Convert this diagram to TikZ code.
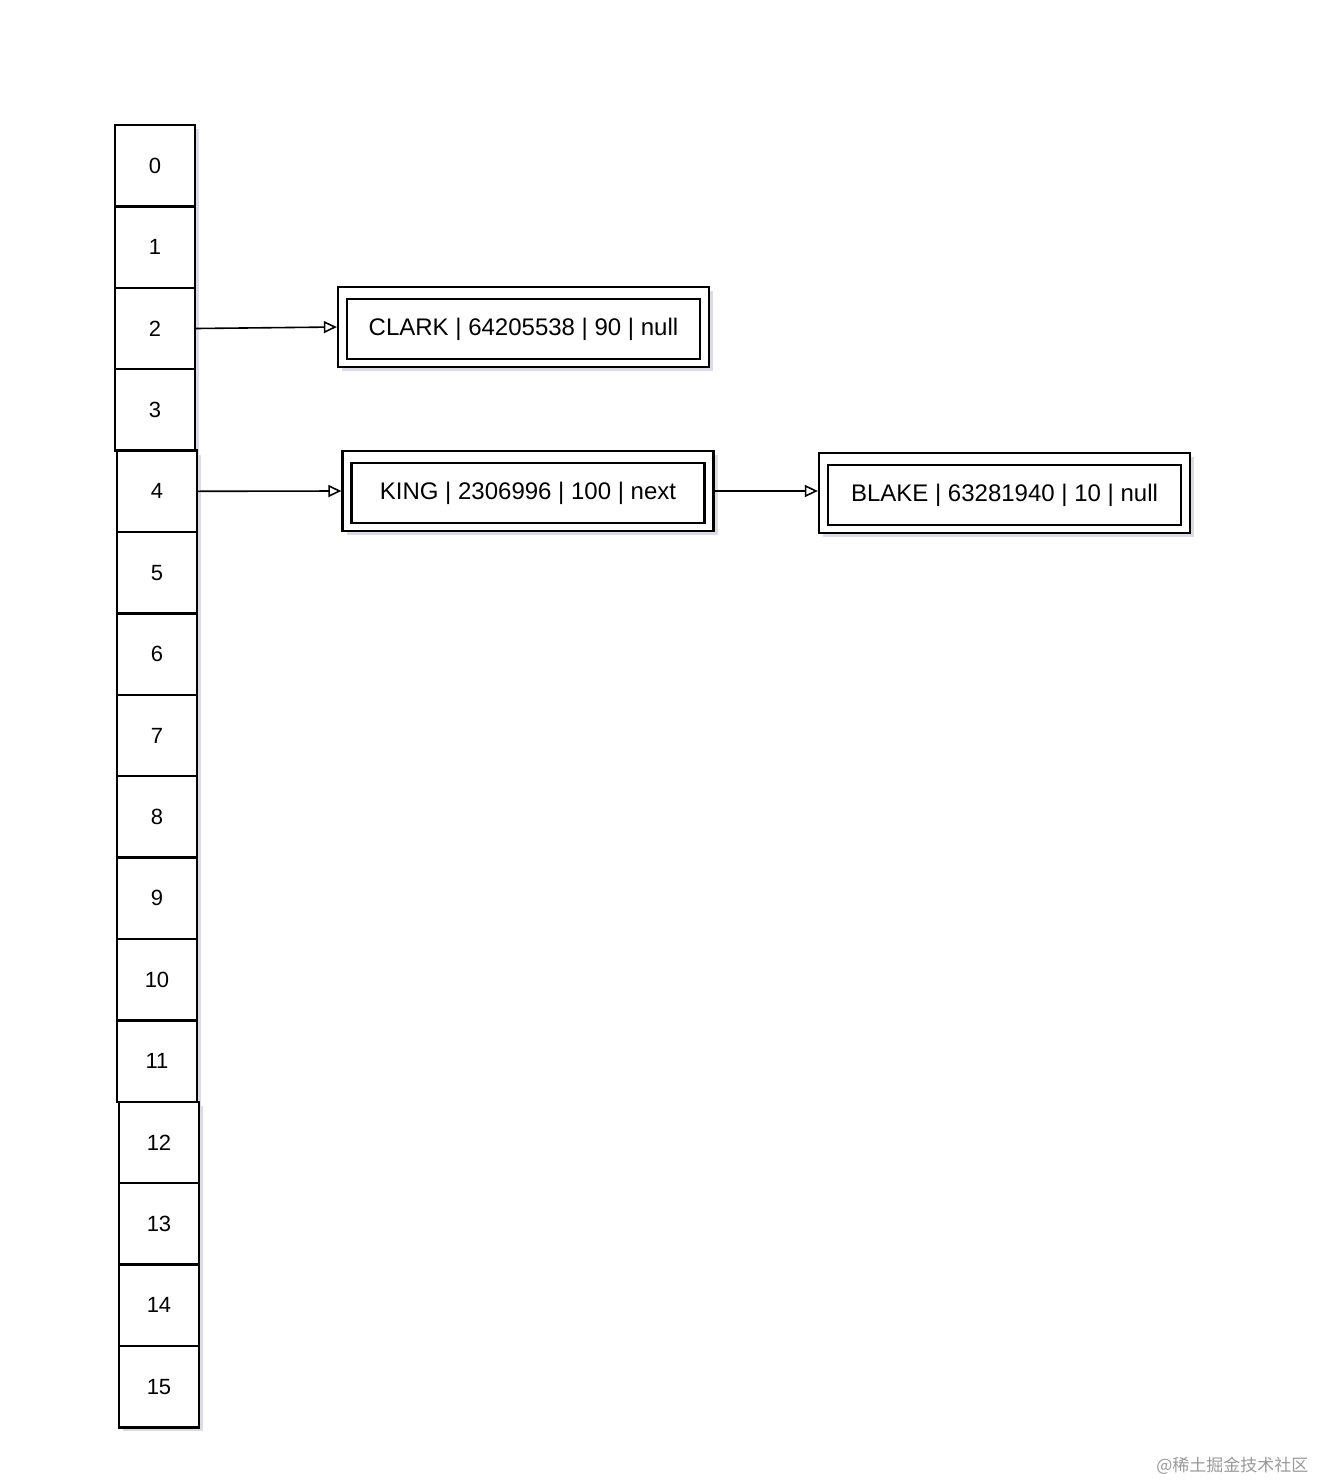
\documentclass[tikz,border=0pt]{standalone}
\usepackage{fontspec}
\setmainfont{Liberation Sans}
\newfontfamily\cjk{Noto Sans CJK SC}
\usetikzlibrary{arrows.meta,shadows}
\begin{document}
\begin{tikzpicture}[x=1pt,y=-1pt,
  shad/.style={drop shadow={shadow xshift=4pt, shadow yshift=-4pt, fill=blue!30!black!40, opacity=0.35}},
  cellbg/.style={fill=white, minimum width=80pt, minimum height=81.4pt, inner sep=0pt, shad},
  cell/.style={draw=black, line width=2.3pt, minimum width=80pt, minimum height=81.4pt,
    inner sep=0pt, font=\fontsize{22}{26}\selectfont},
  outerbox/.style={draw=black, line width=2.3pt, fill=white, minimum width=371pt, minimum height=80pt,
    inner sep=0pt, shad},
  innerbox/.style={draw=black, line width=2.3pt, minimum width=353pt, minimum height=60pt,
    inner sep=0pt, font=\fontsize{24}{28}\selectfont},
  arr/.style={draw=black, line width=1.6pt, -{Triangle[open, length=13pt, width=12pt, line width=1.6pt]}},
  wm/.style={text=black!40, font=\cjk\fontsize{17}{20}\selectfont}
]
\useasboundingbox (0,0) rectangle (1318,1482);
\foreach \i in {0,...,15} {
  \pgfmathsetmacro{\yc}{125+81.4*(\i+0.5)}
  \pgfmathsetmacro{\xc}{\i<4 ? 155 : (\i<12 ? 157 : 159)}
  \node[cellbg] (bg\i) at (\xc,\yc) {};
}
\foreach \i in {0,...,15} {
  \pgfmathsetmacro{\yc}{125+81.4*(\i+0.5)}
  \pgfmathsetmacro{\xc}{\i<4 ? 155 : (\i<12 ? 157 : 159)}
  \node[cell] (c\i) at (\xc,\yc) {\i};
}
\node[outerbox] (clark) at (523.5,327) {};
\node[innerbox] (clarkin) at ([yshift=-2pt]clark.center) {CLARK | 64205538 | 90 | null};
\node[outerbox] (king) at (528,491) {};
\node[innerbox] (kingin) at ([yshift=-2pt]king.center) {KING | 2306996 | 100 | next};
\node[outerbox] (blake) at (1004.5,493) {};
\node[innerbox] (blakein) at ([yshift=-2pt]blake.center) {BLAKE | 63281940 | 10 | null};
\draw[arr] (c2.east) -- (clark.west);
\draw[arr] (c4.east) -- (king.west);
\draw[arr] (king.east) -- (king.east -| blake.west);
\node[wm, anchor=east] (wmark) at (1312,1466) {@稀土掘金技术社区};
\end{tikzpicture}
\end{document}
